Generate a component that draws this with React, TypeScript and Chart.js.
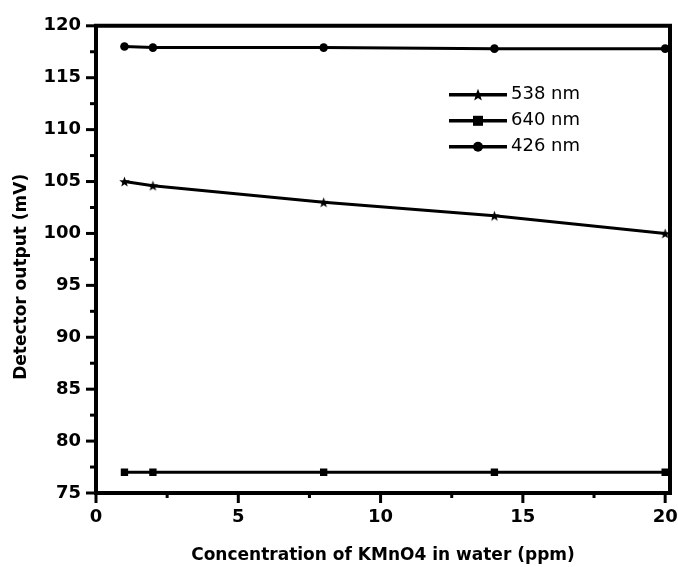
import React, { useEffect, useRef } from 'react';
import { Chart, registerables } from 'chart.js';

Chart.register(...registerables);

const concentrations = [1, 2, 8, 14, 20];
const series538 = [105, 104.6, 103, 101.7, 100];
const series640 = [77, 77, 77, 77, 77];
const series426 = [118, 117.9, 117.9, 117.8, 117.8];
const seriesLabels = ['538 nm', '640 nm', '426 nm'];
const xMajorTicks = [0, 5, 10, 15, 20];
const xMinorTicks = [2.5, 7.5, 12.5, 17.5];
const yMajorTicks = [75, 80, 85, 90, 95, 100, 105, 110, 115, 120];
const yMinorTicks = [77.5, 82.5, 87.5, 92.5, 97.5, 102.5, 107.5, 112.5, 117.5];
const xTitle = 'Concentration of KMnO4 in water (ppm)';
const yTitle = 'Detector output (mV)';

function starPath(ctx: CanvasRenderingContext2D, cx: number, cy: number, R: number, r: number) {
  ctx.beginPath();
  for (let i = 0; i < 10; i++) {
    const ang = -Math.PI / 2 + (i * Math.PI) / 5;
    const rad = i % 2 === 0 ? R : r;
    const px = cx + rad * Math.cos(ang);
    const py = cy + rad * Math.sin(ang);
    if (i === 0) ctx.moveTo(px, py);
    else ctx.lineTo(px, py);
  }
  ctx.closePath();
}

function makeStar(R: number) {
  const c = document.createElement('canvas');
  const s = Math.ceil(R * 2 + 4);
  c.width = s;
  c.height = s;
  const ctx = c.getContext('2d')!;
  ctx.fillStyle = '#000';
  starPath(ctx, s / 2, s / 2 + 0.5, R, R * 0.42);
  ctx.fill();
  return c;
}

const markers = ['star', 'rect', 'circle'];

const framePlugin = {
  id: 'frameAndExtras',
  afterDraw(chart: any) {
    const { ctx, chartArea } = chart;
    const xs = chart.scales.x;
    const ys = chart.scales.y;
    const { left, right, top, bottom } = chartArea;
    ctx.save();
    ctx.strokeStyle = '#000';
    ctx.lineWidth = 4;
    ctx.lineCap = 'square';
    ctx.beginPath();
    ctx.rect(left, top, right - left, bottom - top);
    ctx.stroke();
    ctx.lineCap = 'butt';
    ctx.lineWidth = 3;
    // y ticks
    yMajorTicks.forEach((v) => {
      const py = ys.getPixelForValue(v);
      ctx.beginPath();
      ctx.moveTo(left - 10, py);
      ctx.lineTo(left, py);
      ctx.stroke();
    });
    yMinorTicks.forEach((v) => {
      const py = ys.getPixelForValue(v);
      ctx.beginPath();
      ctx.moveTo(left - 6, py);
      ctx.lineTo(left, py);
      ctx.stroke();
    });
    xMajorTicks.forEach((v) => {
      const px = xs.getPixelForValue(v);
      ctx.beginPath();
      ctx.moveTo(px, bottom);
      ctx.lineTo(px, bottom + 10);
      ctx.stroke();
    });
    xMinorTicks.forEach((v) => {
      const px = xs.getPixelForValue(v);
      ctx.beginPath();
      ctx.moveTo(px, bottom);
      ctx.lineTo(px, bottom + 5);
      ctx.stroke();
    });
    // y title
    ctx.fillStyle = '#000';
    ctx.font = 'bold 17px "DejaVu Sans"';
    ctx.textAlign = 'center';
    ctx.textBaseline = 'middle';
    ctx.save();
    ctx.translate(22, top + 251);
    ctx.rotate(-Math.PI / 2);
    ctx.fillText(yTitle, 0, 0);
    ctx.restore();
    // legend
    const lx = left + 353;
    const ly = top + 69;
    ctx.font = '18px "DejaVu Sans"';
    ctx.textAlign = 'left';
    ctx.textBaseline = 'middle';
    seriesLabels.forEach((lab, i) => {
      const y = ly + i * 26;
      ctx.lineWidth = 3.5;
      ctx.beginPath();
      ctx.moveTo(lx, y);
      ctx.lineTo(lx + 58, y);
      ctx.stroke();
      const mx = lx + 29;
      const m = markers[i];
      if (m === 'star') {
        starPath(ctx, mx, y + 0.5, 6.5, 2.7);
        ctx.fill();
      } else if (m === 'rect') {
        ctx.fillRect(mx - 5, y - 5, 10, 10);
      } else {
        ctx.beginPath();
        ctx.arc(mx, y, 5, 0, Math.PI * 2);
        ctx.fill();
      }
      ctx.fillText(lab, lx + 62, y);
    });
    ctx.restore();
  },
};

export default function App() {
  const ref = useRef<HTMLCanvasElement>(null);
  useEffect(() => {
    const canvas = ref.current!;
    const star = makeStar(5.5);
    const mk = (vals: number[]) => concentrations.map((x, i) => ({ x, y: vals[i] }));
    const tickFont = { family: 'DejaVu Sans', weight: 'bold' as const, size: 18 };
    const chart = new Chart(canvas, {
      type: 'line',
      data: {
        datasets: [
          {
            label: seriesLabels[0],
            data: mk(series538),
            borderColor: '#000',
            backgroundColor: '#000',
            borderWidth: 3,
            pointStyle: star as any,
            pointRadius: 5,
          },
          {
            label: seriesLabels[1],
            data: mk(series640),
            borderColor: '#000',
            backgroundColor: '#000',
            borderWidth: 3,
            pointStyle: 'rect',
            pointRadius: 5.2,
            pointBorderWidth: 0,
          },
          {
            label: seriesLabels[2],
            data: mk(series426),
            borderColor: '#000',
            backgroundColor: '#000',
            borderWidth: 3,
            pointStyle: 'circle',
            pointRadius: 4.3,
            pointBorderWidth: 0,
          },
        ],
      },
      options: {
        animation: false,
        responsive: false,
        devicePixelRatio: 1,
        layout: { padding: { left: 0, top: 24, right: 7, bottom: 0 } },
        plugins: { legend: { display: false }, tooltip: { enabled: false } },
        scales: {
          x: {
            type: 'linear',
            min: 0,
            max: 20.17,
            grid: { display: false, drawTicks: false },
            border: { display: false },
            afterBuildTicks: (scale: any) => {
              scale.ticks = xMajorTicks.map((v) => ({ value: v }));
            },
            afterFit: (scale: any) => {
              scale.height = 74;
              scale.paddingLeft = 0;
              scale.paddingRight = 0;
            },
            ticks: {
              font: tickFont,
              color: '#000',
              padding: 14,
              maxRotation: 0,
              autoSkip: false,
            },
            title: {
              display: true,
              text: xTitle,
              color: '#000',
              font: { family: 'DejaVu Sans', weight: 'bold', size: 17 },
              padding: { top: 0, bottom: 1 },
            },
          },
          y: {
            type: 'linear',
            min: 75,
            max: 120,
            grid: { display: false, drawTicks: false },
            border: { display: false },
            afterBuildTicks: (scale: any) => {
              scale.ticks = yMajorTicks.map((v) => ({ value: v }));
            },
            afterFit: (scale: any) => {
              scale.width = 96;
            },
            ticks: {
              font: tickFont,
              color: '#000',
              padding: 15,
              autoSkip: false,
            },
          },
        },
      },
      plugins: [framePlugin],
    });
    return () => chart.destroy();
  }, []);
  return (
    <div style={{ position: 'fixed', left: 0, top: 0, width: 678, height: 567, background: '#fff' }}>
      <canvas ref={ref} width={678} height={567} style={{ display: 'block' }} />
    </div>
  );
}
